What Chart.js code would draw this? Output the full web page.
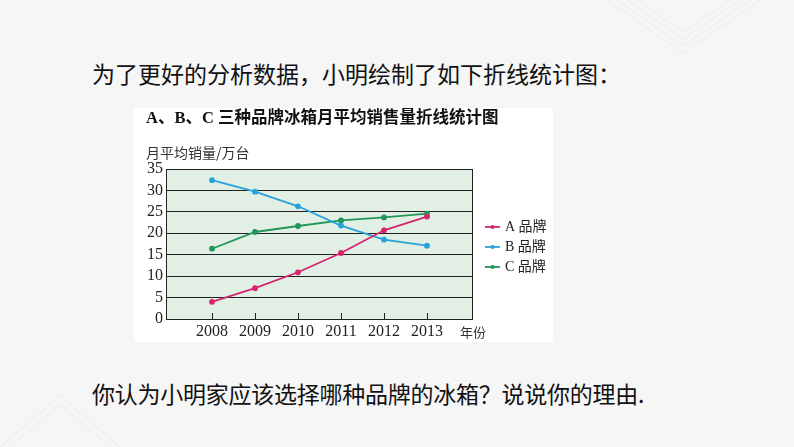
<!DOCTYPE html>
<html>
<head>
<meta charset="utf-8">
<script src="https://cdn.jsdelivr.net/npm/chart.js@4"></script>
<style>
  body { margin: 0; width: 794px; height: 447px; background: #f6f6f6; position: relative; overflow: hidden; font-family: "Noto Sans CJK SC"; }
  .txt { position: absolute; left: 92px; font-size: 23px; color: #111; white-space: nowrap; line-height: 30px; }
  #box { position: absolute; left: 134px; top: 108px; width: 419px; height: 234px; background: #fff; }
  #deco { position: absolute; left: 0; top: 0; }
</style>
</head>
<body>
<svg id="deco" width="794" height="447">
  <g fill="none" stroke="#ebebeb" stroke-width="1">
    <polyline points="607,0 683,53 760,0" />
    <polyline points="617,0 683,46 750,0" />
    <polyline points="627,0 683,39 740,0" />
    <polyline points="637,0 683,32 730,0" />
    <polyline points="0,447 60,395 120,447" />
    <polyline points="10,447 60,404 110,447" />
  </g>
</svg>
<div class="txt" style="top:58px;">为了更好的分析数据，小明绘制了如下折线统计图：</div>
<div class="txt" style="top:378px; letter-spacing:-0.25px;">你认为小明家应该选择哪种品牌的冰箱？说说你的理由.</div>
<div id="box"><canvas id="chart" width="419" height="234"></canvas></div>
<script>
var years = [2008, 2009, 2010, 2011, 2012, 2013];
var brandA = [4, 7.2, 10.9, 15.4, 20.7, 23.9];
var brandB = [32.4, 29.7, 26.3, 21.8, 18.5, 17.1];
var brandC = [16.4, 20.3, 21.7, 23, 23.7, 24.6];
var seriesNames = ['A 品牌', 'B 品牌', 'C 品牌'];
var seriesColors = ['#d6246f', '#27a3dc', '#21965a'];
var yTicks = [0, 5, 10, 15, 20, 25, 30, 35];

var toPoints = function(vals) {
  return years.map(function(y, i) { return { x: y, y: vals[i] }; });
};

var serif = '"Liberation Serif", "Noto Sans CJK SC"';

// background, frame, titles and legend drawn around the plot
var paperPlugin = {
  id: 'paper',
  beforeDraw: function(chart) {
    var ctx = chart.ctx, a = chart.chartArea;
    ctx.save();
    ctx.fillStyle = '#e1efe4';
    ctx.fillRect(a.left, a.top, a.right - a.left, a.bottom - a.top);
    ctx.restore();
  },
  afterDraw: function(chart) {
    var ctx = chart.ctx, a = chart.chartArea;
    var xs = chart.scales.x;
    ctx.save();
    ctx.strokeStyle = '#222';
    ctx.lineWidth = 1;
    ctx.strokeRect(a.left + 0.5, a.top + 0.5, a.right - a.left - 1, a.bottom - a.top);
    // short ticks pointing up from the x axis
    ctx.beginPath();
    years.forEach(function(y) {
      var px = Math.round(xs.getPixelForValue(y)) + 0.5;
      ctx.moveTo(px, a.bottom);
      ctx.lineTo(px, a.bottom - 6);
    });
    ctx.stroke();

    ctx.fillStyle = '#111';
    ctx.textBaseline = 'middle';
    ctx.textAlign = 'left';
    ctx.font = 'bold 16.5px ' + serif;
    ctx.fillText('A、B、C 三种品牌冰箱月平均销售量折线统计图', 12, 11);
    ctx.fillStyle = '#333';
    ctx.font = '14px "Noto Sans CJK SC"';
    ctx.fillText('月平均销量/万台', 12, 45);
    ctx.font = '13px "Noto Sans CJK SC"';
    ctx.fillText('年份', 326, 224);

    // legend
    chart.data.datasets.forEach(function(ds, i) {
      var ly = 119 + i * 20;
      ctx.strokeStyle = ds.borderColor;
      ctx.fillStyle = ds.borderColor;
      ctx.lineWidth = 1.8;
      ctx.beginPath();
      ctx.moveTo(351, ly);
      ctx.lineTo(366, ly);
      ctx.stroke();
      ctx.beginPath();
      ctx.arc(358.5, ly, 2, 0, Math.PI * 2);
      ctx.fill();
      ctx.fillStyle = '#222';
      ctx.font = '14px ' + serif;
      ctx.fillText(ds.label, 371, ly);
    });
    ctx.restore();
  }
};

var ctx = document.getElementById('chart').getContext('2d');
var chart = new Chart(ctx, {
  type: 'line',
  data: {
    datasets: [brandA, brandB, brandC].map(function(vals, i) {
      return {
        label: seriesNames[i],
        data: toPoints(vals),
        borderColor: seriesColors[i],
        backgroundColor: seriesColors[i],
        borderWidth: 1.8,
        pointRadius: 2,
        pointHoverRadius: 2,
        tension: 0
      };
    })
  },
  options: {
    responsive: false,
    animation: false,
    events: [],
    layout: { padding: { top: 61, right: 80, left: 0, bottom: 0 } },
    plugins: {
      legend: { display: false },
      title: { display: false },
      tooltip: { enabled: false }
    },
    scales: {
      x: {
        type: 'linear',
        min: 2006.93,
        max: 2014.07,
        grid: { display: false, drawTicks: false },
        border: { display: false },
        afterBuildTicks: function(scale) {
          scale.ticks = years.map(function(y) { return { value: y }; });
        },
        afterFit: function(scale) { scale.height = 23; },
        ticks: {
          autoSkip: false,
          maxRotation: 0,
          padding: 3,
          color: '#222',
          font: { family: serif, size: 16 },
          callback: function(v) { return String(v); }
        }
      },
      y: {
        min: 0,
        max: 35,
        afterBuildTicks: function(scale) {
          scale.ticks = yTicks.map(function(v) { return { value: v }; });
        },
        afterFit: function(scale) { scale.width = 32; },
        grid: { color: '#222', lineWidth: 1, drawTicks: false },
        border: { display: false },
        ticks: {
          autoSkip: false,
          padding: 3,
          color: '#222',
          font: { family: serif, size: 16 }
        }
      }
    }
  },
  plugins: [paperPlugin]
});
</script>
</body>
</html>
